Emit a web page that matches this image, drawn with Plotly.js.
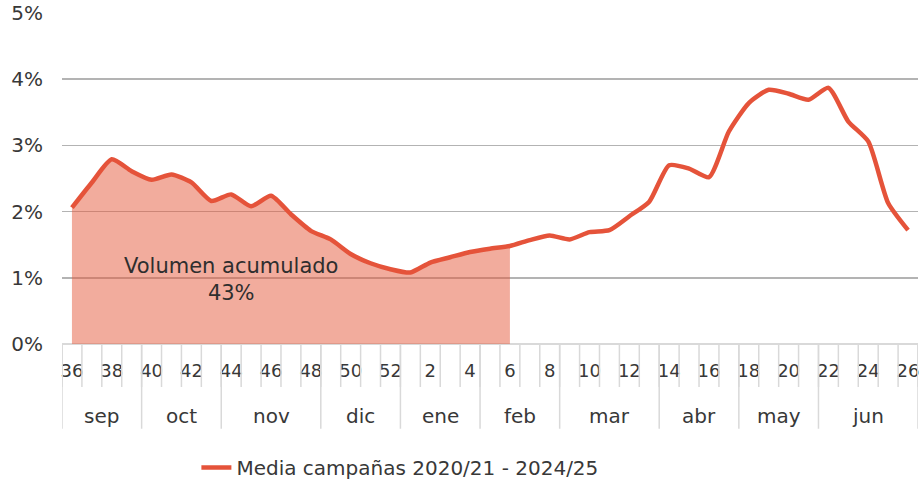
<!DOCTYPE html>
<html>
<head>
<meta charset="utf-8">
<script src="https://cdn.plot.ly/plotly-3.0.1.min.js"></script>
<style>html,body{margin:0;padding:0;background:#fff;}#chart{width:922px;height:490px;}</style>
</head>
<body>
<div id="chart"></div>
<script>
const weeks = [36,37,38,39,40,41,42,43,44,45,46,47,48,49,50,51,52,1,2,3,4,5,6,7,8,9,10,11,12,13,14,15,16,17,18,19,20,21,22,23,24,25,26];
const media = [2.06,2.44,2.79,2.61,2.48,2.56,2.44,2.16,2.26,2.08,2.24,1.96,1.71,1.58,1.36,1.22,1.13,1.08,1.23,1.31,1.39,1.44,1.48,1.57,1.64,1.58,1.69,1.72,1.93,2.15,2.70,2.65,2.52,3.21,3.64,3.84,3.78,3.69,3.87,3.36,3.06,2.13,1.72];
const months = ['sep','oct','nov','dic','ene','feb','mar','abr','may','jun'];
const monthWeeks = [4,4,5,4,4,4,5,4,4,5];
const cumulativeUntilWeek = 6;
const cumulativeLabel = 'Volumen acumulado<br>43%';
const seriesName = 'Media campañas 2020/21 - 2024/25';

const FONT = 'DejaVu Sans';
const TXT = '#383838';
const idx = weeks.map((w,i)=>i);
const cutIdx = weeks.indexOf(cumulativeUntilWeek);

const traces = [
  {x: idx.slice(0,cutIdx+1), y: media.slice(0,cutIdx+1), type:'scatter', mode:'lines',
   fill:'tozeroy', fillcolor:'rgba(230,90,60,0.5)', line:{width:0, shape:'spline', smoothing:0.6},
   showlegend:false, hoverinfo:'skip'},
  {x: idx, y: media, type:'scatter', mode:'lines', name: seriesName,
   line:{color:'#E5533A', width:4.5, shape:'spline', smoothing:0.6}}
];

const shapes = [];
const annotations = [];
for (let k=0;k<=weeks.length;k++){
  shapes.push({type:'line', xref:'x', yref:'paper', x0:k-0.5, x1:k-0.5, y0:0, y1:-0.13,
    line:{color:'#d9d9d9', width:1.5}});
}
let start = 0;
shapes.push({type:'line', xref:'x', yref:'paper', x0:-0.5, x1:-0.5, y0:0, y1:-0.256, line:{color:'#d9d9d9', width:1.5}});
months.forEach((m,i)=>{
  const end = start + monthWeeks[i];
  shapes.push({type:'line', xref:'x', yref:'paper', x0:end-0.5, x1:end-0.5, y0:0, y1:-0.256,
    line:{color:'#d9d9d9', width:1.5}});
  annotations.push({xref:'x', yref:'paper', x:(start+end-1)/2, y:-0.217, text:m, showarrow:false,
    font:{family:FONT, size:20, color:TXT}, xanchor:'center', yanchor:'middle'});
  start = end;
});
annotations.push({xref:'x', yref:'y', x:8, y:0.98, text:cumulativeLabel, showarrow:false,
  font:{family:FONT, size:21, color:'#2e2e2e'}, xanchor:'center', yanchor:'middle'});

const tickIdx = idx.filter(i=>i%2===0);
const layout = {
  width:922, height:490,
  margin:{l:62, r:4, t:13, b:145},
  paper_bgcolor:'#fff', plot_bgcolor:'#fff',
  font:{family:FONT, size:20, color:TXT},
  xaxis:{range:[-0.5, weeks.length-0.5], tickvals:tickIdx, ticktext:tickIdx.map(i=>String(weeks[i])),
    showgrid:false, zeroline:false, showline:false, ticks:'', ticklabelstandoff:14,
    tickfont:{family:FONT, size:18, color:TXT}, fixedrange:true},
  yaxis:{range:[0,5], tickvals:[0,1,2,3,4,5], ticktext:['0%','1%','2%','3%','4%','5%'],
    showgrid:true, gridcolor:'#b3b3b3', gridwidth:1.5, zeroline:true, zerolinecolor:'#d9d9d9', zerolinewidth:1.5,
    showline:false, ticks:'', ticklabelstandoff:18, tickfont:{family:FONT, size:20, color:TXT}},
  shapes:shapes, annotations:annotations,
  showlegend:true,
  legend:{orientation:'h', x:0.157, xanchor:'left', y:-0.31, yanchor:'top',
    font:{family:FONT, size:20, color:TXT}, bgcolor:'rgba(0,0,0,0)'}
};
Plotly.newPlot('chart', traces, layout, {displayModeBar:false, staticPlot:true});
</script>
</body>
</html>
